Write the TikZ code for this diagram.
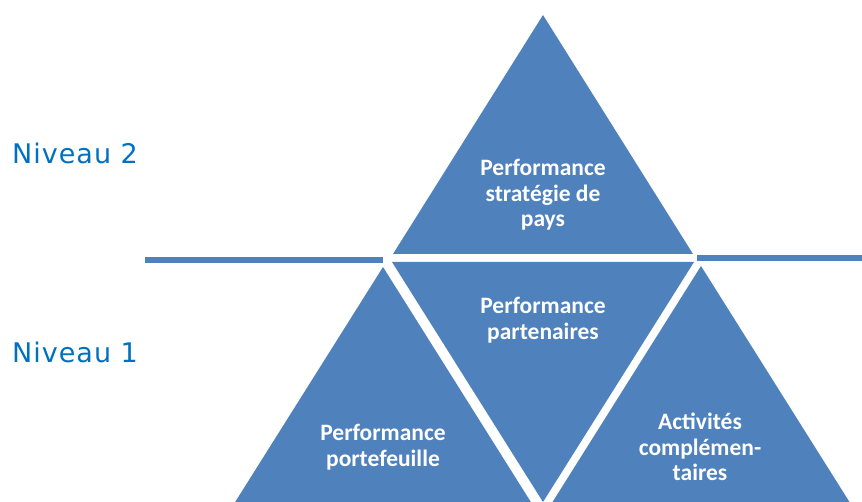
\documentclass[tikz,border=0pt]{standalone}
\usepackage{fontspec}
\setmainfont{Carlito}
\newfontfamily\niveaufont[LetterSpace=3.7]{DejaVu Sans}
\usetikzlibrary{calc}
\definecolor{triblue}{RGB}{79,129,189}
\definecolor{lvlblue}{RGB}{0,112,192}
\tikzstyle{tri} = [fill=triblue, draw=none]
\tikzstyle{sepline} = [draw=triblue, line width=6.5pt]
\tikzstyle{tritext} = [text=white, font=\bfseries\fontsize{23.5}{25.5}\selectfont, align=center, inner sep=0pt]
\tikzstyle{level} = [text=lvlblue, font=\niveaufont\fontsize{27}{30}\selectfont, anchor=west, inner sep=0pt]

\begin{document}
\begin{tikzpicture}[x=1pt,y=-1pt]
\clip (0,0) rectangle (862,502);
%----------------------------------------------------------------------------
% Corners of the triangles
\coordinate (topApex) at (543,15);
\coordinate (topLeft) at (393,254);
\coordinate (topRight) at (693,254);

\coordinate (midLeft) at (392,262);
\coordinate (midRight) at (694,262);
\coordinate (midTip) at (543,502);

\coordinate (portApex) at (383,267);
\coordinate (portLeft) at (232,507);
\coordinate (portRight) at (534,507);

\coordinate (actApex) at (701,266);
\coordinate (actLeft) at (550,506);
\coordinate (actRight) at (852,506);

%----------------------------------------------------------------------------
% Triangles
\fill [tri] (topApex) -- (topLeft) -- (topRight) -- cycle;
\fill [tri] (midLeft) -- (midRight) -- (midTip) -- cycle;
\fill [tri] (portApex) -- (portLeft) -- (portRight) -- cycle;
\fill [tri] (actApex) -- (actLeft) -- (actRight) -- cycle;

%----------------------------------------------------------------------------
% Separation between the two levels
\coordinate (sepStartL) at (145,260);
\coordinate (sepEndL) at (383,260);
\coordinate (sepStartR) at (697,258);
\coordinate (sepEndR) at (862,258);
\draw [sepline] (sepStartL) -- (sepEndL);
\draw [sepline] (sepStartR) -- (sepEndR);

%----------------------------------------------------------------------------
% Texts
\node (strategie) [tritext] at (543,195) {Performance\\strat\'egie de\\pays};
\node (partenaires) [tritext] at (543,320) {Performance\\partenaires};
\node (portefeuille) [tritext] at (383,447) {Performance\\portefeuille};
\node (activites) [tritext] at (700,447) {Activit\'es\\compl\'emen-\\taires};

\node (niveau2) [level] at (12,153) {Niveau 2};
\node (niveau1) [level] at (12,352) {Niveau 1};

\end{tikzpicture}
\end{document}
